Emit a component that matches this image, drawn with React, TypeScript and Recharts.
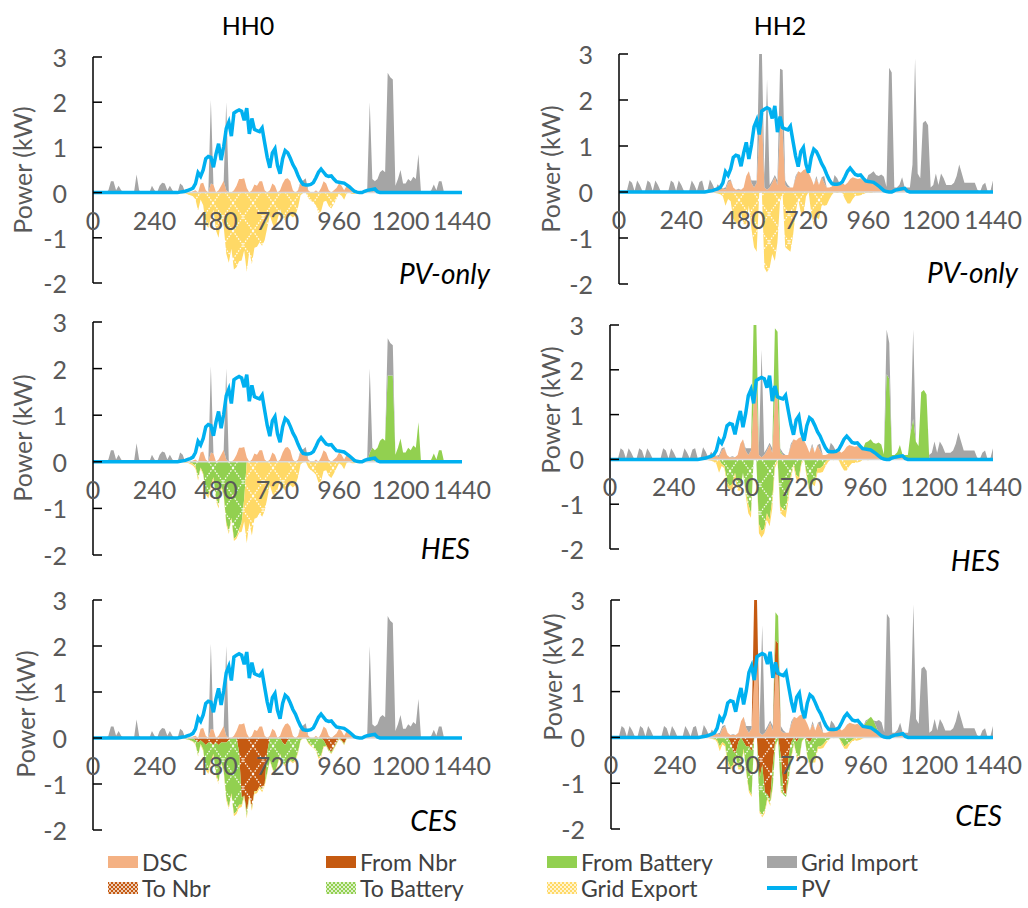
import React from 'react';
import { ComposedChart, Area, Line, XAxis, YAxis, ReferenceLine } from 'recharts';

const FONT = 'Lato, "Open Sans", "DejaVu Sans", sans-serif';
const STEP = 10;
const minutes: number[] = [];
for (let t = 0; t <= 1440; t += STEP) minutes.push(t);

const xTicks = [0, 240, 480, 720, 960, 1200, 1440];
const yTicks = [-2, -1, 0, 1, 2, 3];
const households = ['HH0', 'HH2'];
const scenarios = ['PV-only', 'HES', 'CES'];

// values placed on the 10-minute grid starting at `start`, zero elsewhere
const span = (start: number, values: number[]) =>
  minutes.map((t) => {
    const k = (t - start) / STEP;
    return k >= 0 && k < values.length ? values[k] : 0;
  });

// ---- PV generation (same for both households)
const pv = span(340, [
  0.01, 0.02, 0.03, 0.05, 0.07, 0.1, 0.2, 0.44, 0.36, 0.5,
  0.75, 0.8, 0.78, 0.56, 0.85, 1.08, 0.72, 1.02, 1.42, 1.56,
  1.25, 1.76, 1.8, 1.83, 1.8, 1.6, 1.87, 1.3, 1.64, 1.4,
  1.37, 1.35, 1.43, 1.1, 0.78, 0.55, 0.88, 0.97, 0.6, 0.42,
  0.75, 0.93, 0.88, 0.76, 0.62, 0.52, 0.38, 0.26, 0.18, 0.17,
  0.17, 0.18, 0.22, 0.33, 0.45, 0.52, 0.45, 0.38, 0.36, 0.37,
  0.3, 0.24, 0.23, 0.22, 0.21, 0.17, 0.13, 0.08, 0.03, 0.01,
  0, 0, 0.03, 0.05, 0.06, 0.07, 0.08, 0.02, 0,
]);

// ---- HH0
const hh0Dsc = span(360, [
  0, 0.05, 0, 0.03, 0.05, 0, 0.2, 0.22, 0.05, 0,
  0.2, 0.18, 0, 0.05, 0.15, 0.26, 0.05, 0, 0, 0.05,
  0.15, 0.3, 0.3, 0.32, 0.1, 0, 0.05, 0.18, 0.15, 0.25,
  0.25, 0.05, 0, 0.05, 0.2, 0.15, 0, 0.05, 0.2, 0.3,
  0.32, 0.25, 0.05, 0, 0.05, 0.2, 0.17, 0.17, 0.05, 0,
  0, 0.05, 0, 0.1, 0.25, 0.2, 0.05, 0, 0.05, 0.1,
  0.2, 0.15, 0.05, 0.15, 0.13, 0.05, 0, 0, 0, 0,
  0, 0, 0, 0.05, 0,
]);

const hh0Import = span(0, [
  0, 0, 0, 0, 0, 0,
  0.05, 0.25, 0.25, 0.05, 0.15, 0.05,
  0, 0, 0, 0, 0, 0.4,
  0.05, 0, 0, 0, 0, 0.15,
  0.05, 0, 0.15, 0.22, 0.2, 0.05,
  0.15, 0.05, 0, 0, 0.2, 0.15,
  0, 0, 0, 0, 0, 0,
  0, 0, 0, 0, 1.85, 0,
  0, 0, 0, 0, 1.95, 0,
  0, 0, 0, 0, 0, 0,
  0, 0, 0, 0, 0, 0,
  0, 0, 0, 0, 0, 0,
  0, 0, 0, 0, 0, 0,
  0, 0, 0, 0.05, 0.1, 0.15,
  0, 0, 0, 0, 0, 0,
  0, 0, 0, 0, 0, 0,
  0, 0, 0, 0, 0, 0,
  0, 0, 0, 0, 0, 0.05,
  2.0, 0.25, 0.25, 0.3, 0.45, 0.5,
  0.45, 2.65, 2.55, 2.5, 0.15, 0.3,
  0.5, 0.2, 0.2, 0.3, 0.25, 0.35,
  0.3, 0.85, 0, 0, 0, 0,
  0.05, 0.18, 0.05, 0.25, 0.25, 0,
  0, 0, 0, 0, 0, 0,
  0,
]);

const hh0ExportPv = span(360, [
  -0.02, -0.04, -0.06, -0.08, -0.15, -0.4, -0.15, -0.28, -0.7, -0.78,
  -0.55, -0.38, -0.84, -1.0, -0.56, -0.75, -1.35, -1.55, -1.24, -1.7,
  -1.65, -1.52, -1.5, -1.28, -1.75, -1.3, -1.58, -1.22, -1.2, -1.1,
  -1.18, -1.05, -0.78, -0.5, -0.68, -0.82, -0.6, -0.37, -0.55, -0.62,
  -0.55, -0.5, -0.55, -0.5, -0.33, -0.06, -0.01, 0, -0.12, -0.18,
  -0.22, -0.28, -0.45, -0.42, -0.2, -0.18, -0.3, -0.35, -0.25, -0.14,
  -0.03, -0.07, -0.16, -0.02, 0, -0.03, -0.03, 0,
]);

const hh0FromBatHes = span(1080, [
  0.2, 0.25, 0.25, 0.3, 0.45, 0.5,
  0.45, 1.85, 1.85, 1.85, 0.15, 0.3,
  0.5, 0.2, 0.2, 0.3, 0.25, 0.35,
  0.3, 0.85, 0, 0, 0, 0,
  0.05, 0.18, 0.05, 0.25, 0.25, 0,
]);

const hh0ImportHes = span(0, [
  0, 0, 0, 0, 0, 0,
  0.05, 0.25, 0.25, 0.05, 0.15, 0.05,
  0, 0, 0, 0, 0, 0.4,
  0.05, 0, 0, 0, 0, 0.15,
  0.05, 0, 0.15, 0.22, 0.2, 0.05,
  0.15, 0.05, 0, 0, 0.2, 0.15,
  0, 0, 0, 0, 0, 0,
  0, 0, 0, 0, 1.85, 0,
  0, 0, 0, 0, 1.95, 0,
  0, 0, 0, 0, 0, 0,
  0, 0, 0, 0, 0, 0,
  0, 0, 0, 0, 0, 0,
  0, 0, 0, 0, 0, 0,
  0, 0, 0, 0.05, 0.1, 0.15,
  0, 0, 0, 0, 0, 0,
  0, 0, 0, 0, 0, 0,
  0, 0, 0, 0, 0, 0,
  0, 0, 0, 0, 0, 0.05,
  1.8, 0, 0, 0, 0, 0,
  0, 0.8, 0.7, 0.65, 0, 0,
]);

const hh0ToBatHes = span(380, [
  -0.02, -0.04, -0.1, -0.35, -0.12, -0.25, -0.65, -0.72,
  -0.5, -0.33, -0.78, -0.95, -0.5, -0.7, -1.3, -1.5, -1.2, -1.65,
  -1.6, -1.45, -1.3, -0.8,
]);

const hh0ExportHes = span(360, [
  -0.02, -0.02, -0.04, -0.04, -0.05, -0.05, -0.03, -0.03, -0.05, -0.06,
  -0.05, -0.05, -0.06, -0.05, -0.06, -0.05, -0.05, -0.05, -0.04, -0.05,
  -0.05, -0.07, -0.2, -0.48, -1.75, -1.3, -1.58, -1.22, -1.2, -1.1,
  -1.18, -1.05, -0.78, -0.5, -0.68, -0.82, -0.6, -0.37, -0.55, -0.62,
  -0.55, -0.5, -0.55, -0.5, -0.33, -0.06, -0.01, 0, -0.12, -0.18,
  -0.22, -0.28, -0.45, -0.42, -0.2, -0.18, -0.3, -0.35, -0.25, -0.14,
  -0.03, -0.07, -0.16, -0.02, 0, -0.03, -0.03, 0,
]);

const hh0ToNbrCes = span(400, [
  -0.05, -0.1, -0.05, -0.1, -0.15, -0.1,
  -0.1, -0.15, -0.1, -0.15, -0.1, -0.1, -0.1, -0.05, 0, 0,
  0, -0.3, -1.3, -1.25, -1.6, -1.25, -1.5, -1.15, -1.15, -1.05,
  -1.1, -1.0, -0.3, 0, 0, 0, 0, 0, -0.1, -0.15,
  -0.05, 0, 0, 0, 0, 0, 0, 0, 0, 0,
  0, 0, 0, 0, -0.05, -0.15, -0.25, -0.3, -0.2, -0.1,
  0, -0.05, -0.12, 0,
]);

const hh0ToBatCes = span(360, [
  -0.02, -0.03, -0.05, -0.07, -0.08, -0.28, -0.08, -0.15, -0.5, -0.62,
  -0.4, -0.2, -0.68, -0.8, -0.42, -0.6, -1.2, -1.45, -1.2, -1.65,
  -1.6, -1.15, -0.15, 0, -0.1, 0, -0.03, -0.02, 0, 0,
  -0.03, 0, -0.45, -0.48, -0.65, -0.78, -0.57, -0.35, -0.42, -0.44,
  -0.48, -0.47, -0.52, -0.47, -0.3, -0.05, 0, 0, -0.1, -0.15,
  -0.2, -0.25, -0.42, -0.38, -0.13, -0.02, -0.03, -0.03, -0.03, -0.02,
  -0.02, -0.01, -0.02, -0.01,
]);

const hh0ExportCes = span(360, [
  0, -0.01, -0.01, -0.01, -0.02, -0.02, -0.02, -0.03, -0.05, -0.06,
  -0.05, -0.03, -0.06, -0.05, -0.04, -0.05, -0.05, -0.05, -0.04, -0.05,
  -0.05, -0.07, -0.05, -0.03, -0.05, -0.05, -0.05, -0.05, -0.05, -0.05,
  -0.05, -0.05, -0.03, -0.02, -0.03, -0.04, -0.03, -0.02, -0.03, -0.03,
  -0.02, -0.03, -0.03, -0.03, -0.03, -0.01, -0.01, 0, -0.02, -0.03,
  -0.02, -0.03, -0.03, -0.04, -0.02, -0.01, -0.02, -0.02, -0.02, -0.02,
  -0.01, -0.01, -0.02, -0.01,
]);

// ---- HH2
const hh2Dsc = span(340, [
  0, 0.02, 0.02, 0.03, 0.05, 0.1, 0.08, 0.05, 0.2, 0.25,
  0.1, 0.05, 0.05, 0.05, 0.1, 0.35, 0.45, 0.2, 0.1, 0.2,
  1.25, 1.75, 0.1, 0.05, 0.1, 0.2, 0.32, 0.15, 1.38, 1.35,
  0.15, 0.1, 0.1, 0.1, 0.3, 0.45, 0.42, 0.48, 0.5, 0.42,
  0.3, 0.15, 0.3, 0.15, 0.32, 0.2, 0.1, 0.1, 0.12, 0.17,
  0.15, 0.18, 0.2, 0.15, 0.2, 0.28, 0.32, 0.3, 0.28, 0.3,
  0.25, 0.22, 0.22, 0.2, 0.2, 0.17, 0.13, 0.08, 0.03, 0.01,
  0, 0, 0.03, 0.05, 0.06, 0.07, 0.05,
]);

const hh2Import = span(0, [
  0, 0, 0, 0.02, 0.25, 0.2,
  0.02, 0.25, 0.15, 0.02, 0.02, 0.25,
  0.2, 0.02, 0.25, 0.15, 0.02, 0.02,
  0.02, 0.02, 0.25, 0.2, 0.02, 0.25,
  0.15, 0.02, 0.02, 0.02, 0.25, 0.15,
  0.02, 0.22, 0.25, 0.02, 0.02, 0.25,
  0.15, 0, 0.12, 0, 0, 0.05,
  0.05, 0.02, 0, 0, 0.02, 0,
  0, 0, 0, 0.05, 0.15, 0.05,
  1.85, 1.35, 0.2, 2.4, 0.05, 0.05,
  0.05, 0.1, 1.3, 1.3, 0.1, 0.05,
  0, 0, 0.05, 0, 0, 0,
  0, 0, 0, 0, 0.05, 0,
  0, 0.15, 0, 0, 0, 0.2,
  0.15, 0, 0, 0, 0, 0,
  0, 0, 0, 0, 0, 0,
  0.15, 0.2, 0.25, 0.2, 0.22, 0.3,
  0.3, 0.1, 2.7, 2.6, 0.07, 0.05,
  0.1, 0.25, 0.05, 0.1, 0.1, 0.6,
  2.9, 0.4, 0.3, 1.5, 1.55, 1.45,
  0.1, 0.15, 0.4, 0.15, 0.4, 0.3,
  0.15, 0.15, 0.15, 0.2, 0.35, 0.6,
  0.4, 0.2, 0.2, 0.2, 0.2, 0.2,
  0.05, 0, 0.15, 0.2, 0, 0.02,
  0.25,
]);

const hh2ExportPv = span(370, [
  -0.02, -0.03, -0.05, -0.1, -0.3, -0.15, -0.2, -0.6, -0.7,
  -0.65, -0.45, -0.7, -0.7, -0.3, -0.8, -1.2, -1.3, -0.02, 0,
  -1.65, -1.75, -1.65, -1.35, -1.5, -1.1, -0.2, -0.05, -1.2, -1.25,
  -1.3, -0.95, -0.45, -0.15, -0.45, -0.5, -0.1, 0, -0.45, -0.75,
  -0.55, -0.6, -0.3, -0.3, -0.28, -0.16, -0.06, 0, -0.02, 0,
  -0.02, -0.15, -0.25, -0.25, -0.15, -0.08, -0.08, -0.07, -0.05, -0.02,
  -0.01, -0.02, -0.01, 0,
]);

const hh2FromBatHes = span(540, [
  1.85, 1.35, 0, 0, 0, 0, 0, 0, 1.55, 1.5,
  0.05, 0, 0, 0, 0, 0, 0, 0, 0, 0,
  0, 0, 0, 0, 0, 0, 0, 0, 0, 0,
  0, 0, 0, 0, 0, 0, 0, 0, 0, 0,
  0, 0, 0.15, 0.2, 0.25, 0.2, 0.22, 0.3, 0.3, 0.1,
  1.9, 1.8, 0.07, 0.05, 0.1, 0.25, 0.05, 0.1, 0.1, 0.6,
  0.9, 0.4, 0.3, 1.5, 1.55, 1.45, 0.05,
]);

const hh2ImportHes = span(0, [
  0, 0, 0, 0.02, 0.25, 0.2,
  0.02, 0.25, 0.15, 0.02, 0.02, 0.25,
  0.2, 0.02, 0.25, 0.15, 0.02, 0.02,
  0.02, 0.02, 0.25, 0.2, 0.02, 0.25,
  0.15, 0.02, 0.02, 0.02, 0.25, 0.15,
  0.02, 0.22, 0.25, 0.02, 0.02, 0.25,
  0.15, 0, 0.12, 0, 0, 0.05,
  0.05, 0.02, 0, 0, 0.02, 0,
  0, 0, 0, 0.05, 0.15, 0.05,
  0, 0, 0.2, 2.4, 0.05, 0.05,
  0.05, 0.1, 0, 0, 0.05, 0.05,
  0, 0, 0.05, 0, 0, 0,
  0, 0, 0, 0, 0.05, 0,
  0, 0.15, 0, 0, 0, 0.2,
  0.15, 0, 0, 0, 0, 0,
  0, 0, 0, 0, 0, 0,
  0, 0, 0, 0, 0, 0,
  0, 0, 1.0, 0.8, 0, 0,
  0, 0, 0, 0, 0, 0,
  2.0, 0, 0, 0, 0, 0,
  0.05, 0.15, 0.4, 0.15, 0.4, 0.3,
  0.15, 0.15, 0.15, 0.2, 0.35, 0.6,
  0.4, 0.2, 0.2, 0.2, 0.2, 0.2,
  0.05, 0, 0.15, 0.2, 0, 0.02,
  0.25,
]);

const hh2ToBatHes = span(420, [
  -0.1, -0.15, -0.5, -0.6, -0.55, -0.3, -0.6, -0.65, -0.3, -0.7,
  -1.0, -1.2, 0, 0, -1.45, -1.6, -1.55, -1.2, -1.35, -0.9,
  -0.1, 0, -1.05, -1.1, -1.15, -0.8, -0.35, -0.1, -0.35, -0.4,
  -0.05, 0, -0.35, -0.7, -0.45, -0.5, -0.2, -0.2, -0.15, -0.05,
]);

const hh2ExportHes = span(370, [
  -0.02, -0.03, -0.05, -0.1, -0.3, -0.05, -0.05, -0.1, -0.1, -0.1,
  -0.15, -0.1, -0.05, 0, -0.1, -0.2, -0.1, -0.02, 0, -0.2,
  -0.15, -0.1, -0.15, -0.15, -0.2, -0.1, -0.05, -0.15, -0.15, -0.15,
  -0.15, -0.1, -0.05, -0.1, -0.1, -0.05, 0, -0.1, -0.05, -0.1,
  -0.1, -0.1, -0.1, -0.13, -0.11, -0.06, 0, -0.02, 0, -0.02,
  -0.15, -0.25, -0.25, -0.15, -0.08, -0.08, -0.07, -0.05, -0.02, -0.01,
  -0.02, -0.01,
]);

const hh2FromNbrCes = span(540, [1.85, 1.35, 0, 0, 0, 0, 0, 0, 0.75, 0.7]);

const hh2FromBatCes = span(620, [
  0.6, 0.6, 0, 0, 0, 0, 0, 0, 0, 0,
  0, 0, 0, 0, 0, 0, 0, 0, 0, 0,
  0, 0, 0, 0, 0, 0, 0, 0, 0, 0,
  0, 0, 0, 0, 0.1, 0.2, 0.25, 0.2, 0.1,
]);

const hh2ImportCes = span(0, [
  0, 0, 0, 0.02, 0.25, 0.2,
  0.02, 0.25, 0.15, 0.02, 0.02, 0.25,
  0.2, 0.02, 0.25, 0.15, 0.02, 0.02,
  0.02, 0.02, 0.25, 0.2, 0.02, 0.25,
  0.15, 0.02, 0.02, 0.02, 0.25, 0.15,
  0.02, 0.22, 0.25, 0.02, 0.02, 0.25,
  0.15, 0, 0.12, 0, 0, 0.05,
  0.05, 0.02, 0, 0, 0.02, 0,
  0, 0, 0, 0.05, 0.15, 0.05,
  0, 0, 0.2, 2.4, 0.05, 0.05,
  0.05, 0.1, 0, 0, 0.1, 0.05,
  0, 0, 0.05, 0, 0, 0,
  0, 0, 0, 0, 0.05, 0,
  0, 0.15, 0, 0, 0, 0.2,
  0.15, 0, 0, 0, 0, 0,
  0, 0, 0, 0, 0, 0,
  0.05, 0, 0, 0, 0.12, 0.3,
  0.3, 0.1, 2.7, 2.6, 0.07, 0.05,
  0.1, 0.25, 0.05, 0.1, 0.1, 0.6,
  2.9, 0.4, 0.3, 1.5, 1.55, 1.45,
  0.1, 0.15, 0.4, 0.15, 0.4, 0.3,
  0.15, 0.15, 0.15, 0.2, 0.35, 0.6,
  0.4, 0.2, 0.2, 0.2, 0.2, 0.2,
  0.05, 0, 0.15, 0.2, 0, 0.02,
  0.25,
]);

const hh2ToNbrCes = span(450, [
  -0.1, -0.3, -0.35, -0.1, 0, -0.1, -0.2, -0.2, -0.3, 0,
  0, -0.9, -0.6, -1.2, -1.25, -1.35, -0.6, 0, 0, -0.4,
  -1.2, -1.25, -0.4, -0.1, 0, -0.1, 0, 0, 0, -0.05,
  -0.1,
]);

const hh2ToBatCes = span(380, [
  -0.02, -0.03, -0.06, -0.2, -0.1, -0.15, -0.5, -0.55, -0.3, -0.05,
  -0.55, -0.65, -0.15, -0.55, -0.95, -0.95, 0, 0, -0.7, -1.1,
  -0.4, -0.05, -0.1, -0.45, -0.15, -0.05, -0.75, -0.05, -0.05, -0.5,
  -0.3, -0.12, -0.3, -0.45, -0.08, 0, -0.35, -0.5, -0.5, -0.45,
  -0.2, -0.2, -0.15, -0.08, -0.05, 0, 0, 0, -0.02, -0.1,
  -0.2, -0.15, -0.1, -0.05,
]);

const hh2ExportCes = span(370, [
  -0.02, -0.01, -0.02, -0.04, -0.1, -0.05, -0.05, -0.1, -0.05, -0.05,
  -0.05, -0.05, -0.05, -0.05, -0.05, -0.05, -0.05, -0.02, 0, -0.05,
  -0.05, -0.05, -0.05, -0.05, -0.05, -0.05, 0, -0.05, 0, 0,
  -0.05, -0.05, -0.03, -0.05, -0.05, -0.02, 0, -0.05, -0.05, -0.05,
  -0.1, -0.05, -0.05, -0.08, -0.06, -0.01, 0, -0.02, 0, 0,
  -0.05, -0.05, -0.1, -0.05, -0.03, -0.08, -0.07, -0.05, -0.02, -0.01,
]);

const SERIES = [
  { key: 'dsc', name: 'DSC', stack: 'pos', fill: '#F4B183', swatch: '#F4B183' },
  { key: 'fromNbr', name: 'From Nbr', stack: 'pos', fill: '#C55A11', swatch: '#C55A11' },
  { key: 'fromBat', name: 'From Battery', stack: 'pos', fill: '#92D050', swatch: '#92D050' },
  { key: 'imp', name: 'Grid Import', stack: 'pos', fill: '#A5A5A5', swatch: '#A5A5A5' },
  { key: 'toNbr', name: 'To Nbr', stack: 'neg', fill: 'url(#hatchNbr)', swatch: 'url(#smallNbr)' },
  { key: 'toBat', name: 'To Battery', stack: 'neg', fill: 'url(#hatchBat)', swatch: 'url(#smallBat)' },
  { key: 'exp', name: 'Grid Export', stack: 'neg', fill: 'url(#hatchExp)', swatch: 'url(#smallExp)' },
];

type Panel = {
  hh: number; sc: number;
  left: number; top: number; w: number; h: number;
  yLabel: [number, number]; tag: [number, number];
  data: Record<string, number[]>;
};

const panels: Panel[] = [
  { hh: 0, sc: 0, left: 93, top: 57, w: 369, h: 226, yLabel: [22, 170], tag: [490, 273],
    data: { dsc: hh0Dsc, imp: hh0Import, exp: hh0ExportPv } },
  { hh: 1, sc: 0, left: 619, top: 54, w: 374, h: 230, yLabel: [550, 169], tag: [1018, 272],
    data: { dsc: hh2Dsc, imp: hh2Import, exp: hh2ExportPv } },
  { hh: 0, sc: 1, left: 93, top: 322, w: 369, h: 233, yLabel: [22, 438], tag: [470, 548],
    data: { dsc: hh0Dsc, fromBat: hh0FromBatHes, imp: hh0ImportHes, toBat: hh0ToBatHes, exp: hh0ExportHes } },
  { hh: 1, sc: 1, left: 610, top: 325, w: 383, h: 224, yLabel: [550, 410], tag: [1000, 560],
    data: { dsc: hh2Dsc, fromBat: hh2FromBatHes, imp: hh2ImportHes, toBat: hh2ToBatHes, exp: hh2ExportHes } },
  { hh: 0, sc: 2, left: 93, top: 600, w: 369, h: 230, yLabel: [25, 714], tag: [457, 820],
    data: { dsc: hh0Dsc, imp: hh0Import, toNbr: hh0ToNbrCes, toBat: hh0ToBatCes, exp: hh0ExportCes } },
  { hh: 1, sc: 2, left: 611, top: 600, w: 382, h: 229, yLabel: [552, 677], tag: [1002, 815],
    data: { dsc: hh2Dsc, fromNbr: hh2FromNbrCes, fromBat: hh2FromBatCes, imp: hh2ImportCes,
      toNbr: hh2ToNbrCes, toBat: hh2ToBatCes, exp: hh2ExportCes } },
];

const PAD_L = 80;
const PAD_R = 40;
const PAD_T = 22;
const PAD_B = 44;
const TICK_FONT = 25;

const YTick = (props: any) => {
  const { x, y, payload } = props;
  return (
    <g>
      <line x1={x} x2={x + 9} y1={y} y2={y} stroke="#000" strokeWidth={1.5} />
      <text x={x - 26} y={y} textAnchor="end" dominantBaseline="central"
        fill="#595959" fontSize={TICK_FONT} fontFamily={FONT}>{payload.value}</text>
    </g>
  );
};

function PanelChart({ p }: { p: Panel }) {
  const rows = minutes.map((t, i) => {
    const r: Record<string, number> = { t, pv: pv[i] };
    SERIES.forEach((s) => { r[s.key] = p.data[s.key] ? p.data[s.key][i] : 0; });
    return r;
  });
  const labelY = PAD_T + p.h * 0.6 + 27;
  return (
    <div style={{ position: 'absolute', left: p.left - PAD_L, top: p.top - PAD_T }}>
      <ComposedChart width={p.w + PAD_L + PAD_R} height={p.h + PAD_T + PAD_B} data={rows}
        margin={{ top: PAD_T, right: PAD_R, bottom: PAD_B - 30, left: PAD_L - 40 }}>
        <ReferenceLine y={0} stroke="#D9D9D9" strokeWidth={1.5} />
        {SERIES.map((s) => (
          <Area key={s.key} dataKey={s.key} stackId={s.stack} type="linear" stroke="none"
            fill={s.fill} fillOpacity={1} dot={false} activeDot={false} isAnimationActive={false} />
        ))}
        <Line dataKey="pv" type="linear" stroke="#00B0F0" strokeWidth={3.5} dot={false}
          activeDot={false} isAnimationActive={false} />
        <XAxis dataKey="t" type="number" domain={[0, 1440]} ticks={xTicks} interval={0}
          axisLine={false} tickLine={false} height={30}
          tick={(tp: any) => (
            <text x={tp.x} y={labelY} textAnchor="middle" dominantBaseline="central"
              fill="#595959" fontSize={TICK_FONT} fontFamily={FONT}>{tp.payload.value}</text>
          )} />
        <YAxis type="number" domain={[-2, 3]} ticks={yTicks} interval={0} allowDataOverflow width={40}
          axisLine={{ stroke: '#000', strokeWidth: 1.5 }} tickLine={false} tickSize={0} tickMargin={0}
          tick={YTick} />
      </ComposedChart>
    </div>
  );
}

const hatch = (id: string, color: string, w: number, h: number, sw: number, dash: string) => (
  <pattern id={id} patternUnits="userSpaceOnUse" width={w} height={h}>
    <rect width={w} height={h} fill={color} />
    <path d={`M0,${h} L${w},0 M0,0 L${w},${h}`} stroke="#fff" strokeWidth={sw} strokeDasharray={dash} />
  </pattern>
);

export default function App() {
  return (
    <div style={{ position: 'absolute', left: 0, top: 0, width: 1028, height: 908, background: '#fff', fontFamily: FONT }}>
      <svg width={0} height={0} style={{ position: 'absolute' }}>
        <defs>
          {hatch('hatchNbr', '#C55A11', 20, 28, 1.2, '1.5 1.5')}
          {hatch('hatchBat', '#92D050', 20, 28, 1.2, '1.5 1.5')}
          {hatch('hatchExp', '#FFD966', 20, 28, 1.2, '1.5 1.5')}
          {hatch('smallNbr', '#C55A11', 4, 4, 0.7, '')}
          {hatch('smallBat', '#92D050', 4, 4, 0.7, '')}
          {hatch('smallExp', '#FFD966', 4, 4, 0.7, '')}
        </defs>
      </svg>

      {households.map((hh, i) => (
        <div key={hh} style={{ position: 'absolute', left: i === 0 ? 248 : 780, top: 25,
          transform: 'translate(-50%, -50%)', fontSize: 25, color: '#000' }}>{hh}</div>
      ))}

      {panels.map((p) => (
        <React.Fragment key={`${p.hh}-${p.sc}`}>
          <PanelChart p={p} />
          <div style={{ position: 'absolute', left: p.yLabel[0], top: p.yLabel[1],
            transform: 'translate(-50%, -50%) rotate(-90deg)', whiteSpace: 'nowrap',
            fontSize: 25, color: '#595959' }}>Power (kW)</div>
          <div style={{ position: 'absolute', right: 1028 - p.tag[0], top: p.tag[1],
            transform: 'translateY(-50%)', fontSize: 28, fontStyle: 'italic', color: '#000',
            whiteSpace: 'nowrap' }}>{scenarios[p.sc]}</div>
        </React.Fragment>
      ))}

      {[...SERIES.map((s) => ({ name: s.name, swatch: s.swatch, line: false })),
        { name: 'PV', swatch: '#00B0F0', line: true }].map((it, i) => {
        const col = [108, 326, 547, 767][i % 4];
        const y = i < 4 ? 862 : 888;
        return (
          <div key={it.name} style={{ position: 'absolute', left: col, top: y, transform: 'translateY(-50%)',
            display: 'flex', alignItems: 'center', whiteSpace: 'nowrap', fontSize: 23, color: '#404040' }}>
            <svg width={30} height={14} style={{ marginRight: 4 }}>
              {it.line
                ? <line x1={0} x2={30} y1={7} y2={7} stroke={it.swatch} strokeWidth={4} />
                : <rect x={0} y={1} width={30} height={12} fill={it.swatch} />}
            </svg>
            <span>{it.name}</span>
          </div>
        );
      })}
    </div>
  );
}
